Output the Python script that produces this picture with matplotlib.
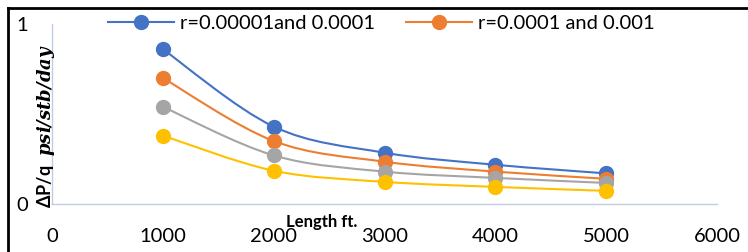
import numpy as np
import matplotlib.pyplot as plt
from matplotlib.path import Path
from matplotlib.patches import PathPatch
from matplotlib.lines import Line2D

plt.rcParams['font.family'] = ['Lato', 'DejaVu Sans']
plt.rcParams['mathtext.fontset'] = 'dejavuserif'

length = [1000, 2000, 3000, 4000, 5000]
blue = [0.86, 0.43, 0.285, 0.218, 0.17]
orange = [0.70, 0.35, 0.235, 0.18, 0.14]
gray = [0.54, 0.27, 0.18, 0.145, 0.117]
yellow = [0.38, 0.185, 0.123, 0.095, 0.073]

labels = ["r=0.00001and 0.0001", "r=0.0001 and 0.001", "", ""]
colors = ["#4472C4", "#ED7D31", "#A5A5A5", "#FFC000"]
series = [blue, orange, gray, yellow]


def smooth_path(x, y):
    # Excel style smoothing: catmull-rom as cubic bezier
    pts = np.column_stack([x, y]).astype(float)
    n = len(pts)
    verts = [pts[0]]
    codes = [Path.MOVETO]
    for i in range(n - 1):
        p0 = pts[max(i - 1, 0)]
        p1 = pts[i]
        p2 = pts[i + 1]
        p3 = pts[min(i + 2, n - 1)]
        c1 = p1 + (p2 - p0) / 6
        c2 = p2 - (p3 - p1) / 6
        verts += [c1, c2, p2]
        codes += [Path.CURVE4] * 3
    return Path(verts, codes)


fig = plt.figure(figsize=(7.48, 2.52), dpi=100)
W, H = 748, 252
ax = fig.add_axes([52 / W, (H - 204) / H, (717 - 52) / W, (204 - 24) / H])

for vals, c in zip(series, colors):
    ax.add_patch(PathPatch(smooth_path(length, vals), fill=False, edgecolor=c, lw=1.5, zorder=2))
    ax.plot(length, vals, ls='none', marker='o', ms=10, color=c, zorder=3)

ax.set_xlim(0, 6000)
ax.set_ylim(0, 1)
ax.set_xticks(range(0, 7000, 1000))
ax.set_yticks([0, 1])
ax.tick_params(length=0, labelsize=14.5)
ax.tick_params(axis='x', pad=17)
ax.tick_params(axis='y', pad=17)
for s in ['top', 'right']:
    ax.spines[s].set_visible(False)
for s in ['left', 'bottom']:
    ax.spines[s].set_color('#BFCCE4')
    ax.spines[s].set_linewidth(1)

handles = [Line2D([], [], color=c, marker='o', ms=10, lw=1.5) for c in colors[:2]]
fig.legend(handles, labels[:2], loc='center left', bbox_to_anchor=(108 / W, 1 - 23 / H),
           ncol=2, frameon=False, fontsize=14.5, handlelength=3.3, handletextpad=0.3,
           columnspacing=1.5, borderaxespad=0, borderpad=0)

fig.text(322 / W, 1 - 222 / H, "Length ft.", fontsize=12, fontweight='bold', ha='center', va='center')
fig.text(46 / W, 1 - 126 / H, r"ΔP/q $\ \mathbfit{psi/stb/day}$", fontsize=13, fontweight='bold',
         rotation=90, ha='center', va='center')

# chart border
fig.add_artist(Line2D([8 / W, 8 / W], [0, 1 - 8 / H], color='black', lw=2, transform=fig.transFigure))
fig.add_artist(Line2D([8 / W, 1], [1 - 8 / H, 1 - 8 / H], color='black', lw=2, transform=fig.transFigure))

fig.savefig("out.png", dpi=100)
